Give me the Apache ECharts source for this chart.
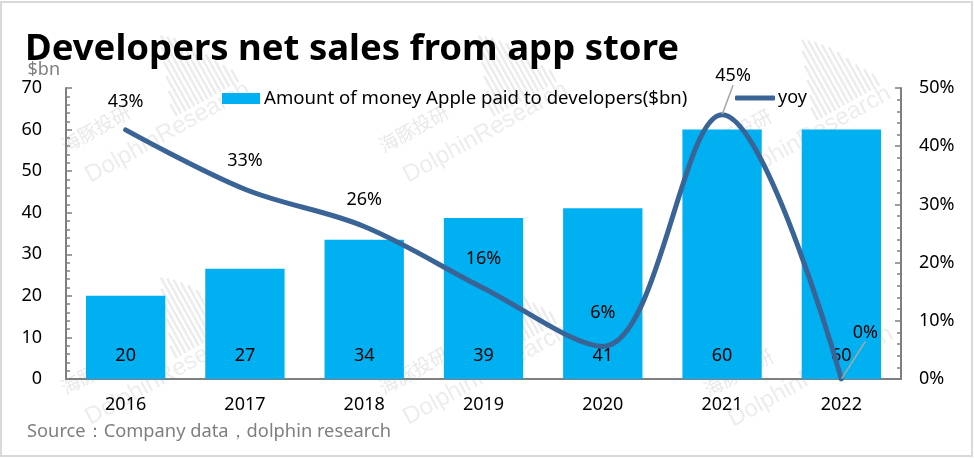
<!DOCTYPE html>
<html>
<head>
<meta charset="utf-8">
<style>
html, body { margin: 0; padding: 0; background: #fff; }
#chart { width: 974px; height: 458px; }
</style>
<script src="https://cdn.jsdelivr.net/npm/echarts@6/dist/echarts.min.js"></script>
</head>
<body>
<div id="chart"></div>
<script>
const years = ['2016', '2017', '2018', '2019', '2020', '2021', '2022']
const paidToDevelopers = [20, 26.5, 33.5, 38.7, 41.1, 60, 60]
const yoy = [42.8, 32.6, 26.2, 15.6, 5.6, 45.4, 0]
const leftTicks = [0, 10, 20, 30, 40, 50, 60, 70]
const rightTicks = [0, 10, 20, 30, 40, 50]

const barName = 'Amount of money Apple paid to developers($bn)'
const lineName = 'yoy'
const font = '"Noto Sans", sans-serif'

// label nudges for the yoy series, dx/dy from the default top position
const yoyLabelShift = [[0, -14], [0, -14], [0, -12], [0, -15], [0, -19], [11, -24], [24, -32]]
// only these two labels sit far enough away to get a leader line
const yoyLeader = ['2021', '2022']

// watermark tiles, repeated over the background
const markOrigins = [[92, 186], [410, 186], [733, 190], [92, 428], [410, 428], [735, 430]]
const stripeHeights = [14, 26, 40, 54, 68, 78, 74, 70, 64, 58, 50, 40, 30, 22, 14]

function watermark(origin) {
    const stripes = stripeHeights.map((h, i) => ({
        type: 'rect',
        shape: { x: 107 + i * 5, y: -20 - h, width: 2.5, height: h },
        style: { fill: '#ececec' }
    }))
    return {
        type: 'group',
        x: origin[0],
        y: origin[1],
        rotation: Math.PI / 6.2,
        silent: true,
        children: stripes.concat([
            {
                type: 'text',
                x: 0,
                y: -22,
                style: { text: 'DolphinResearch', font: '24px "Liberation Sans", sans-serif', fill: '#ededed' }
            },
            {
                type: 'text',
                x: -7,
                y: -58,
                style: { text: '海豚投研', font: '19px "Noto Sans CJK SC", sans-serif', fill: '#e9e9e9' }
            }
        ])
    }
}

const myChart = echarts.init(document.getElementById('chart'), null, { renderer: 'canvas' })

myChart.setOption({
    animation: false,
    backgroundColor: '#fff',
    textStyle: { fontFamily: font },
    title: [
        {
            text: 'Developers net sales from app store',
            left: 20,
            top: 26,
            textStyle: { fontSize: 36.5, fontWeight: 'bold', color: '#000', fontFamily: font }
        },
        {
            text: 'Source：Company data，dolphin research',
            left: 22,
            top: 418,
            textStyle: { fontSize: 18.3, fontWeight: 'normal', color: '#7f7f7f', fontFamily: font }
        }
    ],
    legend: [
        {
            left: 217,
            top: 84,
            icon: 'rect',
            itemWidth: 38,
            itemHeight: 11,
            itemGap: 0,
            textStyle: { fontSize: 18.6, color: '#000', fontFamily: font, padding: [0, 0, 0, -1] },
            data: [barName]
        },
        {
            left: 730,
            top: 84,
            icon: 'roundRect',
            itemWidth: 40,
            itemHeight: 5,
            textStyle: { fontSize: 18, color: '#000', fontFamily: font, padding: [0, 0, 0, -2] },
            data: [lineName]
        }
    ],
    grid: { left: 66, right: 73, top: 88, bottom: 79 },
    xAxis: {
        type: 'category',
        data: years,
        axisLine: { show: true, lineStyle: { color: '#7f7f7f', width: 2 } },
        axisTick: { show: false },
        axisLabel: { fontSize: 18, color: '#000', margin: 17 }
    },
    yAxis: [
        {
            type: 'value',
            min: 0,
            max: 70,
            interval: 10,
            name: '$bn',
            nameLocation: 'end',
            nameGap: 7,
            nameTextStyle: { fontSize: 18, color: '#7f7f7f', align: 'right', padding: [0, 6, 0, 0] },
            axisLine: { show: true, lineStyle: { color: '#7f7f7f', width: 2 } },
            axisTick: { show: true, inside: true, length: 6, lineStyle: { color: '#7f7f7f', width: 1.5 } },
            minorTick: { show: true, splitNumber: 5, length: 4, lineStyle: { color: '#7f7f7f', width: 1.5 } },
            axisLabel: {
                fontSize: 18,
                color: '#000',
                margin: 24,
                formatter: v => (leftTicks.includes(v) ? String(v) : '')
            },
            splitLine: { show: false }
        },
        {
            type: 'value',
            min: 0,
            max: 50,
            interval: 10,
            position: 'right',
            axisLine: { show: true, lineStyle: { color: '#7f7f7f', width: 2 } },
            axisTick: { show: true, inside: true, length: 6, lineStyle: { color: '#7f7f7f', width: 1.5 } },
            minorTick: { show: true, splitNumber: 5, length: 4, lineStyle: { color: '#7f7f7f', width: 1.5 } },
            axisLabel: {
                fontSize: 18,
                color: '#000',
                margin: 18,
                formatter: v => (rightTicks.includes(v) ? v + '%' : '')
            },
            splitLine: { show: false }
        }
    ],
    graphic: [
        {
            type: 'rect',
            z: -10,
            silent: true,
            shape: { x: 1, y: 2, width: 971, height: 454 },
            style: { fill: '#fff', stroke: '#d9d9d9', lineWidth: 2 }
        }
    ].concat(markOrigins.map(watermark)),
    series: [
        {
            name: barName,
            type: 'bar',
            barCategoryGap: '33.5%',
            data: paidToDevelopers,
            itemStyle: { color: '#00b0f0' },
            label: {
                show: true,
                position: 'insideBottom',
                distance: 14,
                fontSize: 18,
                color: '#000',
                formatter: p => String(Math.round(p.value))
            }
        },
        {
            name: lineName,
            type: 'line',
            yAxisIndex: 1,
            smooth: 0.35,
            showSymbol: true,
            showAllSymbol: true,
            symbol: 'circle',
            symbolSize: 1,
            data: yoy.map((v, i) => ({
                value: v,
                labelLine: { show: yoyLeader.includes(years[i]) }
            })),
            z: 5,
            lineStyle: { color: '#3a6496', width: 5, cap: 'round' },
            itemStyle: { color: '#3a6496' },
            label: {
                show: true,
                position: 'top',
                fontSize: 18,
                color: '#000',
                formatter: p => Math.round(p.value) + '%'
            },
            labelLine: { lineStyle: { color: '#a6a6a6', width: 1.5 } },
            labelLayout: p => ({ dx: yoyLabelShift[p.dataIndex][0], dy: yoyLabelShift[p.dataIndex][1] })
        }
    ]
})
</script>
</body>
</html>
